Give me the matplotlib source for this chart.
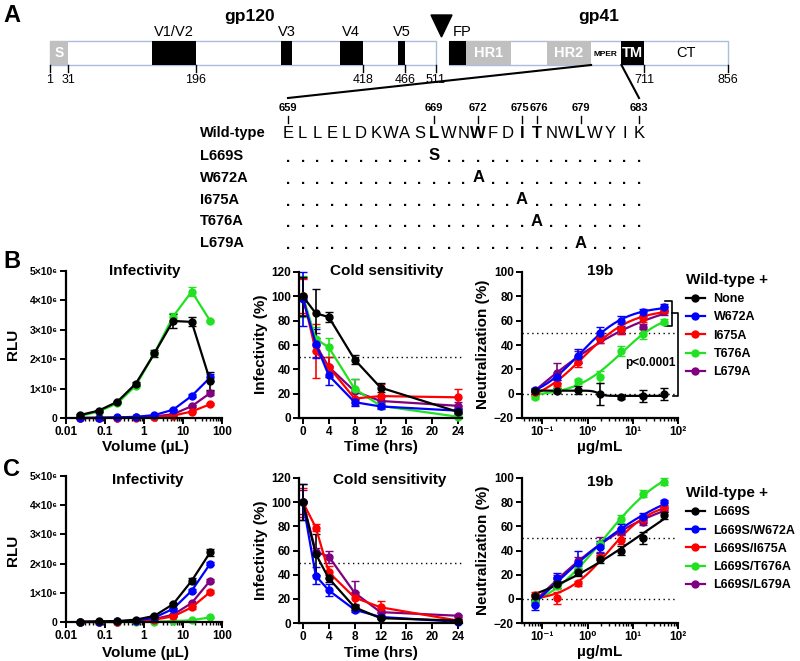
import numpy as np
import matplotlib
matplotlib.use("Agg")
import matplotlib.pyplot as plt
from matplotlib.patches import Rectangle, Polygon
from matplotlib.lines import Line2D
from matplotlib.ticker import FixedLocator, FixedFormatter, LogLocator, NullFormatter, FuncFormatter

plt.rcParams['font.family'] = ['Liberation Sans', 'DejaVu Sans']
plt.rcParams['font.weight'] = 'bold'
plt.rcParams['axes.linewidth'] = 1.6

# ---------------- panel A: Env schematic (residue numbers) ----------------
env_ticks = [1, 31, 196, 418, 466, 511, 711, 856]
gp120_domains = ["S", "V1/V2", "V3", "V4", "V5"]
gp120_starts = [1, 139, 309, 387, 458]
gp120_ends = [31, 196, 324, 418, 466]
gp41_domains = ["FP", "HR1", "HR2", "TM"]
gp41_starts = [512, 529, 612, 688]
gp41_ends = [529, 575, 657, 711]
wt_seq = "ELLELDKWASLWNWFDITNWLWYIK"
seq_first = 659
seq_marks = [659, 669, 672, 675, 676, 679, 683]
bold_sites = [669, 672, 675, 676, 679]
mut_names = ["L669S", "W672A", "I675A", "T676A", "L679A"]
mut_sites = [669, 672, 675, 676, 679]
mut_aa = ["S", "A", "A", "A", "A"]

# ---------------- panels B / C data ----------------
vol = [0.0229, 0.0686, 0.206, 0.617, 1.85, 5.56, 16.7, 50]
hours = [0, 2, 4, 8, 12, 24]
conc = [0.0686, 0.206, 0.617, 1.85, 5.56, 16.7, 50]

b_names = ["None", "W672A", "I675A", "T676A", "L679A"]
c_names = ["L669S", "L669S/W672A", "L669S/I675A", "L669S/T676A", "L669S/L679A"]
colors = ["#000000", "#0000ff", "#ff0000", "#22e022", "#800080"]

# RLU in millions
b_inf = [[0.10, 0.25, 0.55, 1.17, 2.20, 3.30, 3.27, 1.25],
         [0.00, 0.01, 0.02, 0.04, 0.10, 0.28, 0.75, 1.38],
         [0.00, 0.00, 0.01, 0.01, 0.03, 0.08, 0.22, 0.47],
         [0.07, 0.22, 0.50, 1.10, 2.20, 3.45, 4.30, 3.30],
         [0.00, 0.00, 0.01, 0.02, 0.05, 0.13, 0.40, 0.85]]
b_inf_err = [[0.02, 0.03, 0.04, 0.05, 0.12, 0.25, 0.15, 0.30],
             [0, 0, 0, 0, 0.01, 0.02, 0.05, 0.12],
             [0, 0, 0, 0, 0, 0.01, 0.03, 0.04],
             [0, 0, 0, 0, 0.05, 0.12, 0.15, 0.05],
             [0, 0, 0, 0, 0, 0.01, 0.03, 0.08]]
c_inf = [[0.01, 0.02, 0.03, 0.08, 0.21, 0.61, 1.41, 2.39],
         [0.00, 0.01, 0.02, 0.05, 0.15, 0.45, 1.07, 2.00],
         [0.00, 0.00, 0.00, 0.02, 0.08, 0.19, 0.50, 1.03],
         [0.00, 0.00, 0.00, 0.00, 0.01, 0.03, 0.06, 0.16],
         [0.00, 0.00, 0.01, 0.03, 0.10, 0.25, 0.65, 1.42]]
c_inf_err = [[0, 0, 0, 0.01, 0.02, 0.04, 0.08, 0.12],
             [0, 0, 0, 0, 0.01, 0.03, 0.05, 0.05],
             [0, 0, 0, 0, 0.01, 0.02, 0.04, 0.05],
             [0, 0, 0, 0, 0, 0.01, 0.01, 0.02],
             [0, 0, 0, 0, 0.01, 0.02, 0.04, 0.05]]

b_cold = [[100, 86, 83, 48, 25, 5],
          [98, 61, 35, 13, 9.5, 6],
          [100, 55, 42, 16, 18, 17],
          [100, 65, 58, 24, 10, 1],
          [100, 60, 42, 22, 14, 10]]
b_cold_err = [[16, 20, 4, 4, 4, 2],
              [22, 12, 8, 3, 2, 2],
              [14, 22, 8, 5, 10, 7],
              [17, 10, 8, 8, 2, 1],
              [15, 10, 8, 10, 3, 3]]
c_cold = [[100, 57, 37, 13, 4, 2],
          [100, 39, 27, 11, 5, 1],
          [100, 79, 42, 21, 13, 2],
          None,
          [100, 59, 55, 25, 9, 6]]
c_cold_err = [[15, 17, 3, 2, 1, 1],
              [15, 7, 5, 2, 1, 1],
              [12, 3, 5, 5, 5, 1],
              None,
              [10, 3, 5, 10, 2, 1]]

b_neut = [[2, 2.5, 3, 0, -3, -2, -0.5],
          [3, 14, 31, 50, 60, 67, 71],
          [1, 8, 26, 46, 53, 62, 69],
          [-3, 4, 10, 14, 35, 49, 59],
          [2, 17, 30, 45, 52, 55, 68]]
b_neut_err = [[2, 2, 3, 9, 1, 5, 5],
              [2, 3, 6, 5, 4, 3, 3],
              [2, 3, 4, 4, 4, 3, 3],
              [1, 2, 2, 5, 4, 4, 2],
              [2, 8, 5, 3, 3, 2, 3]]
c_neut = [[2, 12, 22, 33, 40, 50, 69],
          [-5, 17, 30, 43, 58, 68, 80],
          [3, 1, 13, 35, 49, 66, 76],
          [-3, 11, 25, 45, 66, 87, 97],
          [-3, 17, 31, 45, 56, 64, 74]]
c_neut_err = [[2, 3, 3, 3, 4, 5, 3],
              [4, 4, 10, 5, 4, 3, 2],
              [3, 5, 2, 3, 4, 3, 3],
              [2, 3, 3, 3, 3, 3, 3],
              [2, 3, 4, 6, 3, 3, 2]]

W, H = 800, 661
fig = plt.figure(figsize=(W / 100, H / 100), dpi=100)


def px_axes(l, t, r, b):
    return fig.add_axes([l / W, 1 - b / H, (r - l) / W, (b - t) / H])


# overlay axis in pixel coordinates for panel A and labels
ov = fig.add_axes([0, 0, 1, 1], zorder=5)
ov.set_xlim(0, W)
ov.set_ylim(H, 0)
ov.axis('off')


def res_x(r):
    if r <= 511:
        return np.interp(r, [1, 31, 196, 418, 466, 511], [50, 68, 196, 363, 405, 436])
    return np.interp(r, [512, 711, 856], [449, 644, 728])


bar_top, bar_bot = 41, 65
edge = '#a9bedc'
for a, b in [(1, 511), (512, 856)]:
    ov.add_patch(Rectangle((res_x(a), bar_top), res_x(b) - res_x(a), bar_bot - bar_top,
                           facecolor='white', edgecolor=edge, lw=1))
gray = '#c0c0c0'
for name, a, b in zip(gp120_domains, gp120_starts, gp120_ends):
    fc = gray if name == "S" else 'black'
    x0, x1 = res_x(a), res_x(b)
    ov.add_patch(Rectangle((x0, bar_top), x1 - x0, bar_bot - bar_top, facecolor=fc, edgecolor='none'))
    if name == "S":
        ov.text((x0 + x1) / 2, 53, name, color='white', fontsize=10, ha='center', va='center')
    else:
        ov.text((x0 + x1) / 2, 32, name, fontsize=10.5, fontweight='normal', ha='center', va='center')
for name, a, b in zip(gp41_domains, gp41_starts, gp41_ends):
    fc = gray if name.startswith("HR") else 'black'
    x0, x1 = res_x(a), res_x(b)
    ov.add_patch(Rectangle((x0, bar_top), x1 - x0, bar_bot - bar_top, facecolor=fc, edgecolor='none'))
    if name != "FP":
        ov.text((x0 + x1) / 2, 53, name, color='white', fontsize=10.5, ha='center', va='center')
    else:
        ov.add_patch(Polygon([[x0 - 18, 15], [x0 + 3, 15], [x0 - 7.5, 37]], closed=True, color='black'))
        ov.text(x0 + 4, 32, name, fontsize=10.5, fontweight='normal', ha='left', va='center')
ov.text(res_x(672), 54, "MPER", fontsize=6, ha='center', va='center')
ov.text(res_x(783), 53, "CT", fontsize=10.5, fontweight='normal', ha='center', va='center')
ov.text(250, 16, "gp120", fontsize=12.5, ha='center', va='center')
ov.text(599, 16, "gp41", fontsize=12.5, ha='center', va='center')
ov.text(12, 16, "A", fontsize=17, ha='center', va='center')

for r in env_ticks:
    x = res_x(r)
    ov.plot([x, x], [bar_bot, bar_bot + 7], color='black', lw=1)
    ov.text(x, 80, str(r), fontsize=9, fontweight='normal', ha='center', va='center')

# MPER expansion
seq_dx = 14.625


def seq_x(r):
    return 288 + (r - seq_first) * seq_dx


ov.plot([res_x(657), seq_x(659)], [bar_bot, 98], color='black', lw=1.5)
ov.plot([res_x(688), seq_x(683)], [bar_bot, 98], color='black', lw=1.5)
for r in seq_marks:
    nudge = {675: -2.5, 676: 2.5}.get(r, 0)
    ov.text(seq_x(r) + nudge, 108, str(r), fontsize=8, ha='center', va='center')
    ov.plot([seq_x(r), seq_x(r)], [116, 123], color='black', lw=1)

rows_y = [133, 156, 178, 200, 221, 243]
ov.text(200, rows_y[0], "Wild-type", fontsize=10.5, ha='left', va='center')
for i, aa in enumerate(wt_seq):
    r = seq_first + i
    ov.text(seq_x(r), rows_y[0], aa, fontsize=12,
            fontweight='bold' if r in bold_sites else 'normal', ha='center', va='center')
for k, (nm, site, aa) in enumerate(zip(mut_names, mut_sites, mut_aa)):
    y = rows_y[k + 1]
    ov.text(200, y, nm, fontsize=10.5, ha='left', va='center')
    for i in range(len(wt_seq)):
        r = seq_first + i
        if r == site:
            ov.text(seq_x(r), y, aa, fontsize=12, ha='center', va='center')
        else:
            ov.text(seq_x(r), y + 2, ".", fontsize=11, ha='center', va='center')

ov.text(12, 262, "B", fontsize=17, ha='center', va='center')
ov.text(12, 470, "C", fontsize=17, ha='center', va='center')


# ---------------- helpers ----------------
def style(ax):
    for s in ['top', 'right']:
        ax.spines[s].set_visible(False)
    ax.tick_params(which='major', width=1.4, length=4, labelsize=8.5, pad=2)
    ax.tick_params(which='minor', width=1.0, length=2)
    ax.patch.set_alpha(0)


def fit_curve(x, y):
    lx = np.log10(x)
    y = np.asarray(y, float)
    cg, hg = np.meshgrid(np.linspace(-1.5, 2.6, 206), np.linspace(0.3, 8, 155))
    cg = cg.ravel()[:, None]
    hg = hg.ravel()[:, None]
    S = 1.0 / (1.0 + 10 ** ((cg - lx[None, :]) * hg))
    Sm = S.mean(1, keepdims=True)
    ym = y.mean()
    den = ((S - Sm) ** 2).sum(1)
    den[den == 0] = 1e-12
    b = ((S - Sm) * (y - ym)).sum(1) / den
    a = ym - b * Sm[:, 0]
    sse = ((a[:, None] + b[:, None] * S - y) ** 2).sum(1)
    k = np.argmin(sse)
    xs = np.logspace(lx.min(), lx.max(), 200)
    ss = 1.0 / (1.0 + 10 ** ((cg[k, 0] - np.log10(xs)) * hg[k, 0]))
    return xs, a[k] + b[k] * ss


def infectivity_panel(ax, vals, errs):
    for i in reversed(range(5)):
        ax.errorbar(vol, np.array(vals[i]) * 1e6, yerr=np.array(errs[i]) * 1e6, fmt='-o',
                    color=colors[i], ms=5, lw=1.6, elinewidth=1.2, capsize=3, clip_on=False)
    ax.set_xscale('log')
    ax.set_xlim(0.01, 100)
    ax.set_ylim(0, 5e6)
    ax.xaxis.set_major_locator(FixedLocator([0.01, 0.1, 1, 10, 100]))
    ax.xaxis.set_major_formatter(FixedFormatter(['0.01', '0.1', '1', '10', '100']))
    ax.xaxis.set_minor_locator(LogLocator(subs=np.arange(2, 10)))
    ax.xaxis.set_minor_formatter(NullFormatter())
    ax.yaxis.set_major_locator(FixedLocator([0, 1e6, 2e6, 3e6, 4e6, 5e6]))
    ax.yaxis.set_major_formatter(FuncFormatter(lambda v, p: '0' if v == 0 else f'{int(round(v / 1e6))}×10⁶'))
    style(ax)
    ax.tick_params(axis='y', labelsize=7.5)


def cold_panel(ax, vals, errs):
    ax.axhline(50, color='black', lw=1, ls=(0, (1, 2.5)))
    for i in reversed(range(5)):
        if vals[i] is None:
            continue
        ax.errorbar(hours, vals[i], yerr=errs[i], fmt='-o', color=colors[i], ms=5, lw=1.6,
                    elinewidth=1.2, capsize=3, clip_on=False)
    ax.set_xlim(-0.6, 24.6)
    ax.set_ylim(0, 120)
    ax.set_xticks(range(0, 25, 4))
    ax.set_yticks(range(0, 121, 20))
    style(ax)


def neut_panel(ax, vals, errs):
    ax.axhline(50, color='black', lw=1, ls=(0, (1, 2.5)))
    ax.axhline(0, color='black', lw=1, ls=(0, (1, 2.5)))
    for i in reversed(range(5)):
        ax.errorbar(conc, vals[i], yerr=errs[i], fmt='o', color=colors[i], ms=5,
                    elinewidth=1.2, capsize=3, clip_on=False)
        xs, ys = fit_curve(conc, vals[i])
        ax.plot(xs, ys, color=colors[i], lw=1.6)
    ax.set_xscale('log')
    ax.set_xlim(10 ** -1.45, 100)
    ax.set_ylim(-20, 100)
    ax.xaxis.set_major_locator(FixedLocator([0.1, 1, 10, 100]))
    ax.xaxis.set_major_formatter(FixedFormatter(['10⁻¹', '10⁰', '10¹', '10²']))
    ax.xaxis.set_minor_locator(LogLocator(subs=np.arange(2, 10)))
    ax.xaxis.set_minor_formatter(NullFormatter())
    ax.set_yticks(range(-20, 101, 20))
    style(ax)


def add_legend(ax, names, top_px):
    handles = [Line2D([], [], color=c, marker='o', ms=5, lw=1.6) for c in colors]
    leg = ax.legend(handles, names, loc='upper left', bbox_to_anchor=(681 / W, 1 - top_px / H),
                    bbox_transform=fig.transFigure, frameon=False, title='Wild-type +',
                    title_fontproperties={'weight': 'bold', 'size': 11}, prop={'weight': 'bold', 'size': 9},
                    handlelength=1.5, handletextpad=0.7, labelspacing=0.5, borderaxespad=0,
                    alignment='left')
    return leg


# ---------------- row B ----------------
axb1 = px_axes(66, 271, 222, 418)
infectivity_panel(axb1, b_inf, b_inf_err)
axb2 = px_axes(299, 272, 462, 418)
cold_panel(axb2, b_cold, b_cold_err)
axb3 = px_axes(522, 272, 678, 418)
neut_panel(axb3, b_neut, b_neut_err)
add_legend(axb3, b_names, 268)

# significance brackets
kw = dict(color='black', lw=1.2, clip_on=False)
axb3.plot([52, 74, 74, 52], [76.5, 76.5, 55.5, 55.5], **kw)
axb3.plot([74, 100, 100, 78], [66, 66, -1.6, -1.6], **kw)
axb3.text(25, 25, "p<0.0001", fontsize=8.5, ha='center', va='center')

# ---------------- row C ----------------
axc1 = px_axes(66, 476, 222, 622)
infectivity_panel(axc1, c_inf, c_inf_err)
axc2 = px_axes(299, 478, 462, 623)
cold_panel(axc2, c_cold, c_cold_err)
axc3 = px_axes(522, 478, 678, 623)
neut_panel(axc3, c_neut, c_neut_err)
add_legend(axc3, c_names, 481)

# titles and axis labels (pixel positions)
for x, y, s in [(145, 271, "Infectivity"), (387, 271, "Cold sensitivity"), (600, 271, "19b"),
                (148, 480, "Infectivity"), (390, 480, "Cold sensitivity"), (600, 482, "19b")]:
    ov.text(x, y, s, fontsize=11, ha='center', va='center')
for x, y, s in [(146, 447, "Volume (µL)"), (381, 447, "Time (hrs)"), (600, 447, "µg/mL"),
                (146, 653, "Volume (µL)"), (381, 653, "Time (hrs)"), (600, 652, "µg/mL")]:
    ov.text(x, y, s, fontsize=11, ha='center', va='center')
for x, y, s in [(13, 344, "RLU"), (261, 344, "Infectivity (%)"), (483, 344, "Neutralization (%)"),
                (13, 550, "RLU"), (261, 550, "Infectivity (%)"), (483, 550, "Neutralization (%)")]:
    ov.text(x, y, s, fontsize=11, rotation=90, ha='center', va='center')

fig.savefig("out.png", dpi=100)
